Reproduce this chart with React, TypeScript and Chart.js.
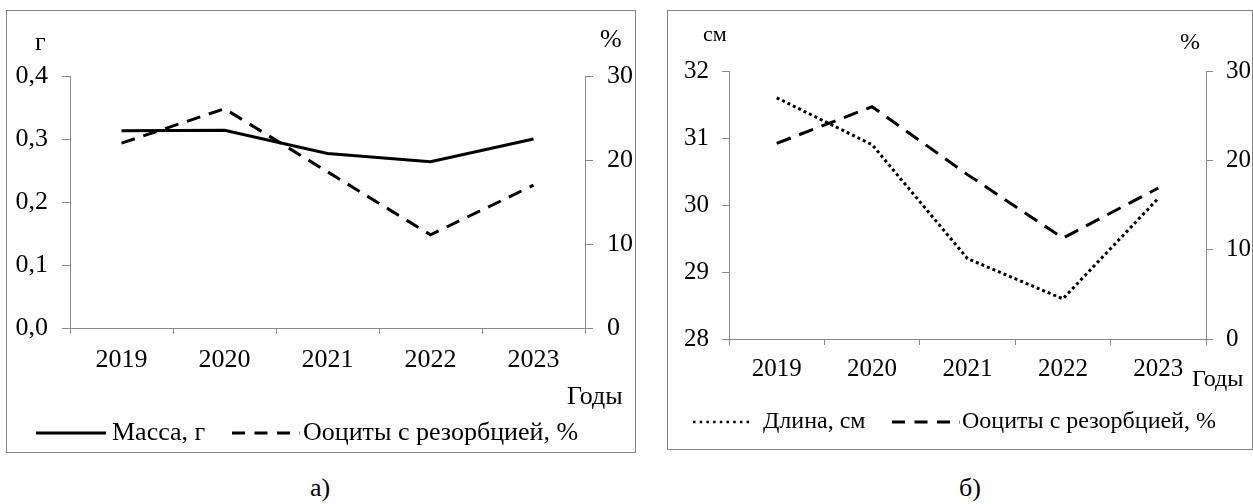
import React, { useEffect, useRef } from 'react';
import { Chart, registerables } from 'chart.js';

Chart.register(...registerables);

const FONT = "'Liberation Serif', 'Times New Roman', serif";
const AXIS_GRAY = '#8a8a8a';
const FRAME_GRAY = '#858585';

// ---- data ----
const years = ['2019', '2020', '2021', '2022', '2023'];
const massG = [0.313, 0.314, 0.277, 0.264, 0.3];
const oocytesA = [22, 26.1, 18.6, 11.1, 17];
const lengthCm = [31.6, 30.9, 29.2, 28.6, 30.1];
const oocytesB = [21.9, 26, 18.4, 11.3, 16.9];
const massTicks = ['0,0', '0,1', '0,2', '0,3', '0,4'];
const lengthTicks = ['28', '29', '30', '31', '32'];
const percentTicks = ['0', '10', '20', '30'];

type TextItem = { text: string; x: number; y: number; size: number };
type LegendItem = { x0: number; x1: number; textX: number; dash?: number[]; width?: number };

type PanelCfg = {
  box: { x: number; y: number; w: number; h: number };
  area: { left: number; right: number; top: number; bottom: number };
  tickSize: number;
  legendSize: number;
  xPad: number;
  yPad: number;
  tickLenY: number;
  tickLenX: number;
  left: { min: number; max: number; step: number; labels: string[] };
  right: { min: number; max: number; step: number; labels: string[] };
  datasets: any[];
  texts: TextItem[];
  legendY: number;
  legend: LegendItem[];
};

const overlayPlugin = (cfg: PanelCfg) => ({
  id: 'overlay',
  afterDraw(chart: any) {
    const ctx = chart.ctx as CanvasRenderingContext2D;
    ctx.save();
    ctx.fillStyle = '#000';
    ctx.textBaseline = 'middle';
    ctx.textAlign = 'left';
    for (const t of cfg.texts) {
      ctx.font = `${t.size}px ${FONT}`;
      ctx.fillText(t.text, t.x, t.y);
    }
    chart.data.datasets.forEach((ds: any, i: number) => {
      const it = cfg.legend[i];
      if (!it) return;
      ctx.beginPath();
      ctx.lineWidth = it.width ?? ds.borderWidth;
      ctx.strokeStyle = ds.borderColor;
      ctx.lineCap = 'butt';
      ctx.setLineDash(it.dash ?? ds.borderDash ?? []);
      ctx.moveTo(it.x0, cfg.legendY);
      ctx.lineTo(it.x1, cfg.legendY);
      ctx.stroke();
      ctx.setLineDash([]);
      ctx.font = `${cfg.legendSize}px ${FONT}`;
      ctx.fillText(ds.label, it.textX, cfg.legendY);
    });
    ctx.restore();
  },
});

function buildConfig(cfg: PanelCfg): any {
  const W = cfg.box.w - 2;
  const H = cfg.box.h - 2;
  const tickFont = { family: FONT, size: cfg.tickSize };
  const axisCommon = (side: 'left' | 'right') => {
    const s = cfg[side];
    return {
      type: 'linear',
      position: side,
      min: s.min,
      max: s.max,
      grid: {
        display: true,
        drawOnChartArea: false,
        drawTicks: true,
        tickLength: cfg.tickLenY,
        color: AXIS_GRAY,
        tickColor: AXIS_GRAY,
      },
      border: { display: true, color: AXIS_GRAY, width: 1 },
      ticks: {
        stepSize: s.step,
        padding: cfg.yPad,
        color: '#000',
        font: tickFont,
        callback: (v: number) => s.labels[Math.round((v - s.min) / s.step)] ?? '',
      },
      afterFit: (scale: any) => {
        scale.width = side === 'left' ? cfg.area.left : W - cfg.area.right;
      },
    };
  };
  return {
    type: 'line',
    data: { labels: years, datasets: cfg.datasets },
    options: {
      animation: false,
      responsive: false,
      maintainAspectRatio: false,
      devicePixelRatio: 1,
      events: [],
      layout: { padding: { top: cfg.area.top, left: 0, right: 0, bottom: 0 } },
      plugins: { legend: { display: false }, tooltip: { enabled: false }, title: { display: false } },
      elements: { point: { radius: 0 }, line: { tension: 0 } },
      scales: {
        x: {
          type: 'category',
          offset: true,
          grid: {
            display: true,
            offset: true,
            drawOnChartArea: false,
            drawTicks: true,
            tickLength: cfg.tickLenX,
            color: AXIS_GRAY,
            tickColor: AXIS_GRAY,
          },
          border: { display: true, color: AXIS_GRAY, width: 1 },
          ticks: {
            padding: cfg.xPad,
            color: '#000',
            font: tickFont,
            maxRotation: 0,
            autoSkip: false,
          },
          afterFit: (scale: any) => {
            scale.height = H - cfg.area.bottom;
          },
        },
        y: axisCommon('left'),
        y1: axisCommon('right'),
      },
    },
    plugins: [overlayPlugin(cfg)],
  };
}

const line = (label: string, data: number[], axis: string, dash: number[]) => ({
  label,
  data,
  yAxisID: axis,
  borderColor: '#000',
  backgroundColor: '#000',
  borderWidth: 3,
  borderDash: dash,
  borderCapStyle: 'butt',
  borderJoinStyle: 'miter',
  pointRadius: 0,
  fill: false,
});

const panelA: PanelCfg = {
  box: { x: 6, y: 10, w: 630, h: 443 },
  area: { left: 63, right: 578, top: 65, bottom: 317 },
  tickSize: 26,
  legendSize: 26,
  xPad: 11,
  yPad: 14,
  tickLenY: 8,
  tickLenX: 6,
  left: { min: 0, max: 0.4, step: 0.1, labels: massTicks },
  right: { min: 0, max: 30, step: 10, labels: percentTicks },
  datasets: [
    line('Масса, г', massG, 'y', []),
    line('Ооциты с резорбцией, %', oocytesA, 'y1', [14, 9]),
  ],
  texts: [
    { text: 'г', x: 28, y: 32, size: 26 },
    { text: '%', x: 593, y: 29, size: 26 },
    { text: 'Годы', x: 560, y: 386, size: 26 },
  ],
  legendY: 422,
  legend: [
    { x0: 29, x1: 99, textX: 105 },
    { x0: 225, x1: 293, textX: 296, dash: [13, 9.5] },
  ],
};

const panelB: PanelCfg = {
  box: { x: 667, y: 10, w: 586, h: 440 },
  area: { left: 61, right: 538, top: 60, bottom: 328 },
  tickSize: 25,
  legendSize: 24,
  xPad: 9,
  yPad: 13,
  tickLenY: 7,
  tickLenX: 6,
  left: { min: 28, max: 32, step: 1, labels: lengthTicks },
  right: { min: 0, max: 30, step: 10, labels: percentTicks },
  datasets: [
    line('Длина, см', lengthCm, 'y', [3, 3]),
    line('Ооциты с резорбцией, %', oocytesB, 'y1', [15, 9]),
  ],
  texts: [
    { text: 'см', x: 35, y: 24, size: 22 },
    { text: '%', x: 512, y: 32, size: 24 },
    { text: 'Годы', x: 524, y: 369, size: 24 },
  ],
  legendY: 411,
  legend: [
    { x0: 25, x1: 85, textX: 95, dash: [2.5, 4.2], width: 2.5 },
    { x0: 224, x1: 292, textX: 294, dash: [13, 9.5] },
  ],
};

function Panel({ cfg }: { cfg: PanelCfg }) {
  const ref = useRef<HTMLCanvasElement>(null);
  useEffect(() => {
    const chart = new Chart(ref.current as HTMLCanvasElement, buildConfig(cfg));
    return () => chart.destroy();
  }, [cfg]);
  const { box } = cfg;
  return (
    <div
      style={{
        position: 'absolute',
        left: box.x,
        top: box.y,
        width: box.w,
        height: box.h,
        border: `1px solid ${FRAME_GRAY}`,
        boxSizing: 'border-box',
        background: '#fff',
      }}
    >
      <canvas
        ref={ref}
        width={box.w - 2}
        height={box.h - 2}
        style={{ display: 'block', width: box.w - 2, height: box.h - 2 }}
      />
    </div>
  );
}

const captionStyle = (cx: number, cy: number): React.CSSProperties => ({
  position: 'absolute',
  left: cx - 50,
  top: cy - 16,
  width: 100,
  height: 32,
  lineHeight: '32px',
  textAlign: 'center',
  fontFamily: FONT,
  fontSize: 26,
  color: '#000',
});

export default function App() {
  return (
    <div
      style={{
        position: 'fixed',
        left: 0,
        top: 0,
        width: 1253,
        height: 504,
        background: '#fff',
        overflow: 'hidden',
      }}
    >
      <Panel cfg={panelA} />
      <Panel cfg={panelB} />
      <div style={captionStyle(320, 488)}>а)</div>
      <div style={captionStyle(970, 488)}>б)</div>
    </div>
  );
}
